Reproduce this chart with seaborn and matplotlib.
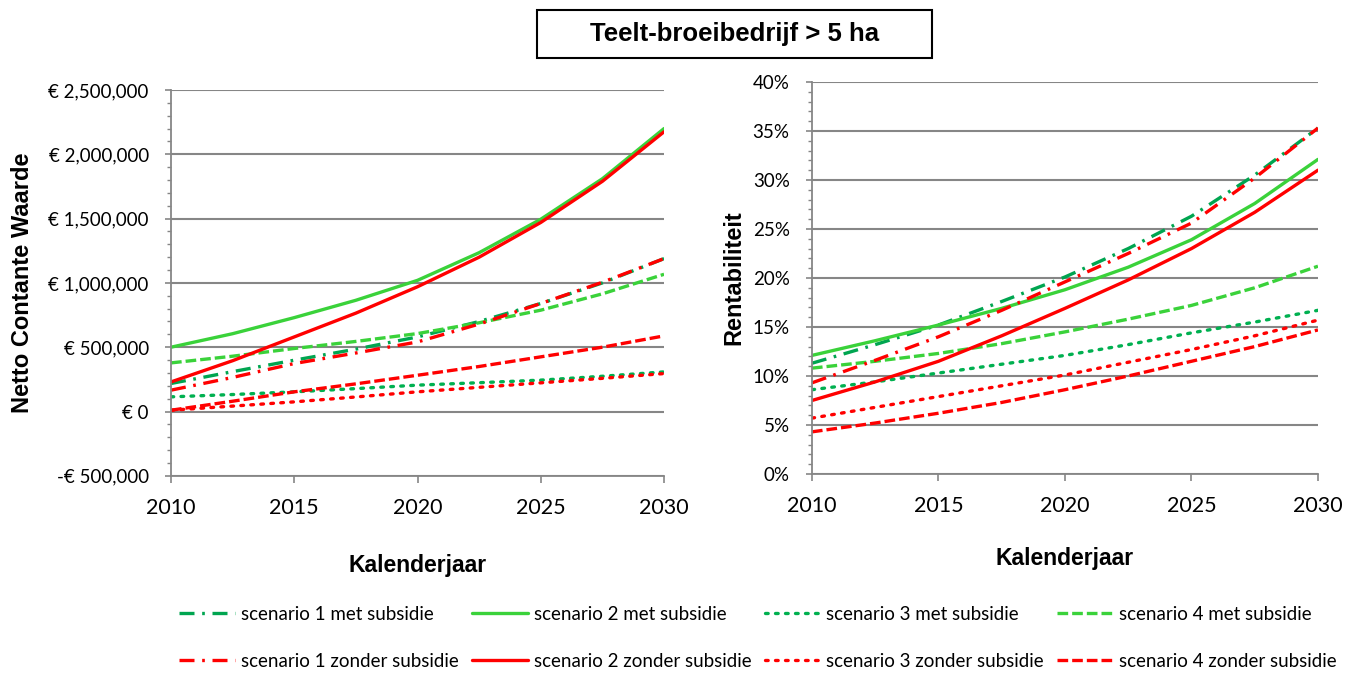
import numpy as np
import pandas as pd
import seaborn as sns
import matplotlib.pyplot as plt
from matplotlib.ticker import FuncFormatter, MultipleLocator
from matplotlib.patches import Rectangle

sns.set_theme(style="white")
plt.rcParams['font.family'] = ['Lato', 'DejaVu Sans']
plt.rcParams['text.color'] = 'black'
plt.rcParams['axes.labelcolor'] = 'black'
plt.rcParams['xtick.color'] = 'black'
plt.rcParams['ytick.color'] = 'black'

years = [2010, 2012.5, 2015, 2017.5, 2020, 2022.5, 2025, 2027.5, 2030]

# Netto Contante Waarde (euro)
ncw_s1_met = [218000, 310000, 399000, 485000, 580000, 700000, 840000, 1000000, 1189000]
ncw_s2_met = [500000, 605000, 730000, 865000, 1020000, 1235000, 1495000, 1810000, 2200000]
ncw_s3_met = [114000, 132000, 153000, 178000, 205000, 224000, 244000, 274000, 308000]
ncw_s4_met = [378000, 430000, 490000, 545000, 606000, 690000, 788000, 915000, 1067000]
ncw_s1_zonder = [166000, 265000, 373000, 455000, 541000, 680000, 840000, 1005000, 1189000]
ncw_s2_zonder = [230000, 395000, 580000, 765000, 970000, 1200000, 1470000, 1790000, 2175000]
ncw_s3_zonder = [10000, 42000, 75000, 113000, 153000, 188000, 223000, 258000, 295000]
ncw_s4_zonder = [10000, 80000, 153000, 215000, 282000, 350000, 425000, 500000, 588000]

# Rentabiliteit (%)
ren_s1_met = [11.3, 13.2, 15.2, 17.6, 20.1, 23.0, 26.3, 30.5, 35.3]
ren_s2_met = [12.1, 13.6, 15.2, 16.9, 18.8, 21.1, 23.9, 27.6, 32.1]
ren_s3_met = [8.6, 9.4, 10.3, 11.2, 12.1, 13.2, 14.4, 15.5, 16.7]
ren_s4_met = [10.8, 11.5, 12.3, 13.3, 14.5, 15.8, 17.2, 19.0, 21.2]
ren_s1_zonder = [9.3, 11.6, 14.0, 16.7, 19.6, 22.5, 25.6, 30.2, 35.3]
ren_s2_zonder = [7.5, 9.4, 11.5, 14.1, 16.9, 19.8, 23.0, 26.7, 31.0]
ren_s3_zonder = [5.7, 6.8, 7.9, 9.0, 10.1, 11.4, 12.7, 14.1, 15.7]
ren_s4_zonder = [4.3, 5.2, 6.2, 7.3, 8.6, 10.0, 11.5, 13.0, 14.7]

labels = ['scenario 1 met subsidie', 'scenario 2 met subsidie', 'scenario 3 met subsidie', 'scenario 4 met subsidie',
          'scenario 1 zonder subsidie', 'scenario 2 zonder subsidie', 'scenario 3 zonder subsidie',
          'scenario 4 zonder subsidie']
colors = ['#00a550', '#3ad23a', '#00b050', '#3ad23a', '#ff0000', '#ff0000', '#ff0000', '#ff0000']
styles = [(0, (4.5, 2.3, 0.8, 2.3)), '-', (0, (0.8, 2.2)), (0, (3.2, 1.2))] * 2

ncw = [ncw_s1_met, ncw_s2_met, ncw_s3_met, ncw_s4_met, ncw_s1_zonder, ncw_s2_zonder, ncw_s3_zonder, ncw_s4_zonder]
ren = [ren_s1_met, ren_s2_met, ren_s3_met, ren_s4_met, ren_s1_zonder, ren_s2_zonder, ren_s3_zonder, ren_s4_zonder]

fig = plt.figure(figsize=(13.53, 6.73), dpi=100)
ax1 = fig.add_axes([0.1264, 0.2930, 0.3644, 0.5733])
ax2 = fig.add_axes([0.6001, 0.2957, 0.3740, 0.5825])

for i in range(8):
    for ax, data in ((ax1, ncw), (ax2, ren)):
        sns.lineplot(x=years, y=data[i], color=colors[i], linestyle=styles[i], lw=2.4,
                     ax=ax, label=labels[i], legend=False,
                     dash_capstyle='round' if i % 4 == 2 else 'butt')


def euro(v, pos):
    if v == 0:
        return '€ 0'
    s = '€ {:,.0f}'.format(abs(v))
    return '-' + s if v < 0 else s


grid_c = '#868686'
for ax in (ax1, ax2):
    ax.set_xlim(2010, 2030)
    ax.set_xticks([2010, 2015, 2020, 2025, 2030])
    for s in ('top', 'right'):
        ax.spines[s].set_visible(False)
    for s in ('left', 'bottom'):
        ax.spines[s].set_color(grid_c)
        ax.spines[s].set_linewidth(1.3)
    ax.grid(axis='y', color=grid_c, lw=1.5)
    ax.tick_params(axis='x', which='major', direction='out', length=5, color=grid_c, width=1.2,
                   labelsize=15.5, pad=11, bottom=True)
    ax.tick_params(axis='y', which='major', direction='out', length=4.5, color=grid_c, width=1.2,
                   labelsize=13.5, pad=11.5, left=True)
    ax.tick_params(axis='y', which='minor', direction='out', length=3, color=grid_c, width=1, left=True)
    ax.set_xlabel('Kalenderjaar', fontsize=16.5, fontweight='bold', family='Liberation Sans')

ax1.set_ylim(-500000, 2500000)
ax1.yaxis.set_major_locator(MultipleLocator(500000))
ax1.yaxis.set_minor_locator(MultipleLocator(100000))
ax1.yaxis.set_major_formatter(FuncFormatter(euro))
ax1.set_ylabel('Netto Contante Waarde', fontsize=17, fontweight='bold', family='Liberation Sans', labelpad=10)
ax1.xaxis.labelpad = 26

ax2.set_ylim(0, 40)
ax2.yaxis.set_major_locator(MultipleLocator(5))
ax2.yaxis.set_minor_locator(MultipleLocator(1))
ax2.yaxis.set_major_formatter(FuncFormatter(lambda v, p: '{:.0f}%'.format(v)))
ax2.set_ylabel('Rentabiliteit', fontsize=17, fontweight='bold', family='Liberation Sans', labelpad=5)
ax2.xaxis.labelpad = 22

# title box
fig.patches.append(Rectangle((0.3969, 0.9138), 0.2919, 0.0713, transform=fig.transFigure,
                             fill=False, edgecolor='black', lw=1.5))
fig.text(0.5432, 0.9495, 'Teelt-broeibedrijf > 5 ha', ha='center', va='center',
         fontsize=18.5, fontweight='bold', family='Liberation Sans')

handles, labs = ax1.get_legend_handles_labels()
order = [0, 4, 1, 5, 2, 6, 3, 7]
fig.legend([handles[k] for k in order], [labs[k] for k in order], loc='center left',
           bbox_to_anchor=(0.120, 0.0527), ncol=4, frameon=False, fontsize=13.5,
           handlelength=3.0, handletextpad=0.3, columnspacing=0.7, labelspacing=1.6)

fig.savefig('out.png', dpi=100)
